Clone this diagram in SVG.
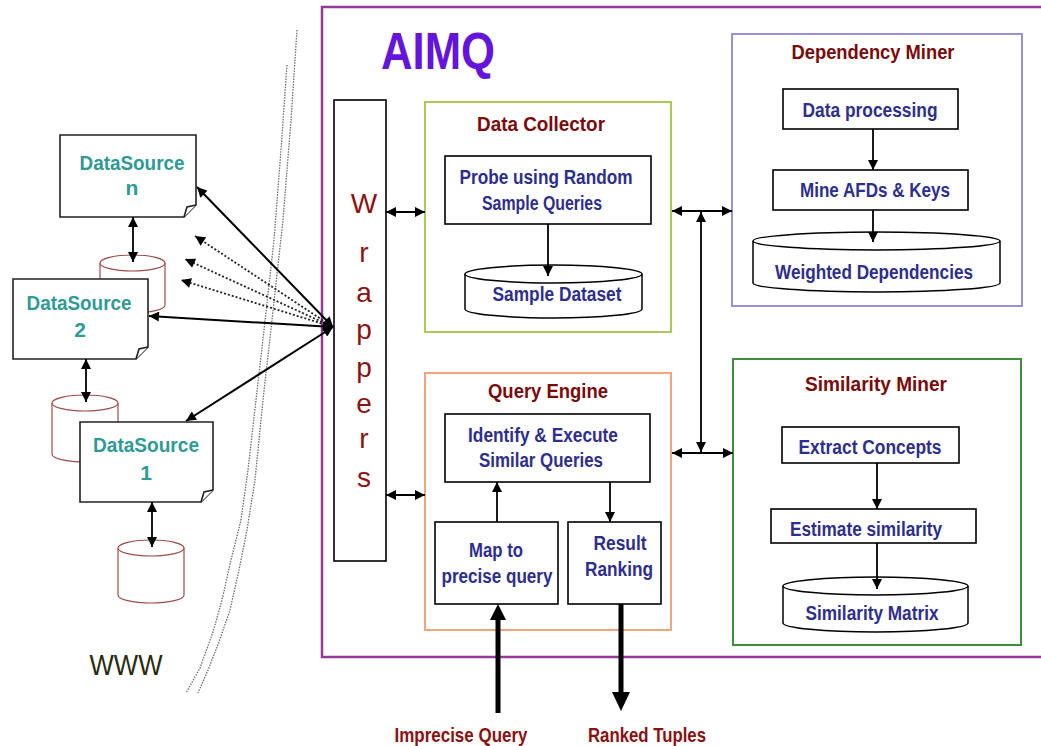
<svg xmlns="http://www.w3.org/2000/svg" width="1041" height="746" viewBox="0 0 1041 746">
  <style>
    text { font-family: "Liberation Sans", Arial, sans-serif; }
    .title { font-weight: bold; font-size: 21px; fill: #7a0a0a; text-anchor: middle; }
    .inner { font-weight: bold; font-size: 20px; fill: #2e2e8e; text-anchor: middle; }
    .ds { font-weight: bold; font-size: 21px; fill: #2f9a96; text-anchor: middle; }
    .wrap { font-size: 28px; fill: #8b1414; text-anchor: middle; }
    .io { font-weight: bold; font-size: 21px; fill: #8b1010; text-anchor: middle; }
    .box { fill: #ffffff; stroke: #000000; stroke-width: 1.6; }
    .cyl { fill: #ffffff; stroke: #000000; stroke-width: 1.5; }
    .dbcyl { fill: #ffffff; stroke: #a04a4a; stroke-width: 1.2; }
    .note { fill: #ffffff; stroke: #222222; stroke-width: 1.6; }
    .link { fill: none; stroke: #000000; stroke-width: 1.8; }
    .web { fill: none; stroke: #000000; stroke-width: 2; }
    .dots { fill: none; stroke: #222222; stroke-width: 1.8; stroke-dasharray: 2 2; }
    .edge { fill: none; stroke: #6e6e6e; stroke-width: 1.3; stroke-dasharray: 1.5 1.2; }
    .thick { fill: none; stroke: #000000; stroke-width: 5; }
  </style>
  <defs>
    <marker id="ah" viewBox="0 0 10 10" refX="10" refY="5" markerWidth="11" markerHeight="10" markerUnits="userSpaceOnUse" orient="auto-start-reverse">
      <path d="M0,0 L10,5 L0,10 z" fill="#000000"/>
    </marker>
  </defs>

  <rect width="1041" height="746" fill="#ffffff"/>

  <!-- network boundary drawn as two dotted strands -->
  <g id="www-edge">
    <path class="edge" d="M287,65 L281,150 L274,240 L264,330 L256,400 L248,470 L241,520 L231,560 L222,600 L213,632 L200,668 L186,693"/>
    <path class="edge" d="M297,30 L291,120 L283,220 L272,320 L263,400 L255,480 L247,530 L239,570 L230,610 L219,642 L208,670 L198,693"/>
  </g>

  <!-- AIMQ system frame -->
  <g id="aimq">
    <rect x="322" y="7" width="730" height="650" fill="none" stroke="#973a97" stroke-width="2.5"/>
    <text x="438" y="69" font-size="52" font-weight="bold" fill="#6414dc" text-anchor="middle" textLength="114" lengthAdjust="spacingAndGlyphs">AIMQ</text>
  </g>

  <!-- data sources on the web -->
  <g id="db-n">
    <path class="dbcyl" d="M100,263 V305 A32.5,8 0 0 0 165,305 V263"/>
    <ellipse class="dbcyl" cx="132.5" cy="263" rx="32.5" ry="8"/>
  </g>
  <g id="datasource-n">
    <path class="note" d="M60,135 H196 V205 L184,217 H60 Z"/>
    <path class="note" d="M196,205 L187,207 L184,217" stroke-width="1.2"/>
    <text class="ds" x="132" y="170" textLength="105" lengthAdjust="spacingAndGlyphs">DataSource</text>
    <text class="ds" x="132" y="195">n</text>
  </g>
  <g id="db-2">
    <path class="dbcyl" d="M52,403 V454 A33,8 0 0 0 118,454 V403"/>
    <ellipse class="dbcyl" cx="85" cy="403" rx="33" ry="8"/>
  </g>
  <g id="datasource-2">
    <path class="note" d="M13,279 H148 V347 L136,359 H13 Z"/>
    <path class="note" d="M148,347 L139,349 L136,359" stroke-width="1.2"/>
    <text class="ds" x="79" y="310" textLength="105" lengthAdjust="spacingAndGlyphs">DataSource</text>
    <text class="ds" x="80" y="337">2</text>
  </g>
  <g id="db-1">
    <path class="dbcyl" d="M118,548 V595 A33,8 0 0 0 184,595 V548"/>
    <ellipse class="dbcyl" cx="151" cy="548" rx="33" ry="8"/>
  </g>
  <g id="datasource-1">
    <path class="note" d="M80,422 H213 V490 L201,502 H80 Z"/>
    <path class="note" d="M213,490 L204,492 L201,502" stroke-width="1.2"/>
    <text class="ds" x="146" y="452" textLength="106" lengthAdjust="spacingAndGlyphs">DataSource</text>
    <text class="ds" x="146" y="480">1</text>
  </g>
  <g id="www-label">
    <text x="126" y="675" font-size="29" fill="#2a2a12" text-anchor="middle" textLength="73" lengthAdjust="spacingAndGlyphs">WWW</text>
  </g>

  <!-- wrappers column -->
  <g id="wrappers">
    <rect class="box" x="334" y="100" width="52" height="461"/>
    <text class="wrap" x="364" y="213">W</text>
    <text class="wrap" x="364" y="262">r</text>
    <text class="wrap" x="364" y="302">a</text>
    <text class="wrap" x="364" y="339">p</text>
    <text class="wrap" x="364" y="377">p</text>
    <text class="wrap" x="364" y="413">e</text>
    <text class="wrap" x="364" y="448">r</text>
    <text class="wrap" x="364" y="487">s</text>
  </g>

  <!-- Data Collector -->
  <g id="data-collector">
    <rect x="425" y="102" width="246" height="230" fill="none" stroke="#aacb55" stroke-width="2"/>
    <text class="title" x="541" y="131" textLength="128" lengthAdjust="spacingAndGlyphs">Data Collector</text>
    <rect class="box" x="445" y="156" width="206" height="68"/>
    <text class="inner" x="546" y="184" textLength="173" lengthAdjust="spacingAndGlyphs">Probe using Random</text>
    <text class="inner" x="542" y="210" textLength="120" lengthAdjust="spacingAndGlyphs">Sample Queries</text>
    <path class="cyl" d="M465,274 V309 A88.5,9 0 0 0 642,309 V274"/>
    <ellipse class="cyl" cx="553.5" cy="274" rx="88.5" ry="9"/>
    <text class="inner" x="557" y="301" textLength="129" lengthAdjust="spacingAndGlyphs">Sample Dataset</text>
  </g>

  <!-- Dependency Miner -->
  <g id="dependency-miner">
    <rect x="732" y="34" width="290" height="272" fill="none" stroke="#9a8fdc" stroke-width="2"/>
    <text class="title" x="873" y="59" textLength="163" lengthAdjust="spacingAndGlyphs">Dependency Miner</text>
    <rect class="box" x="783" y="89" width="175" height="40"/>
    <text class="inner" x="870" y="117" textLength="135" lengthAdjust="spacingAndGlyphs">Data processing</text>
    <rect class="box" x="773" y="170" width="195" height="40"/>
    <text class="inner" x="875" y="197" textLength="150" lengthAdjust="spacingAndGlyphs">Mine AFDs &amp; Keys</text>
    <path class="cyl" d="M753,241 V283 A123.5,9 0 0 0 1000,283 V241"/>
    <ellipse class="cyl" cx="876.5" cy="241" rx="123.5" ry="9"/>
    <text class="inner" x="874" y="279" textLength="198" lengthAdjust="spacingAndGlyphs">Weighted Dependencies</text>
  </g>

  <!-- Query Engine -->
  <g id="query-engine">
    <rect x="425" y="373" width="246" height="257" fill="none" stroke="#f2a57a" stroke-width="2"/>
    <text class="title" x="548" y="398" textLength="120" lengthAdjust="spacingAndGlyphs">Query Engine</text>
    <rect class="box" x="445" y="414" width="205" height="68"/>
    <text class="inner" x="543" y="442" textLength="150" lengthAdjust="spacingAndGlyphs">Identify &amp; Execute</text>
    <text class="inner" x="541" y="467" textLength="124" lengthAdjust="spacingAndGlyphs">Similar Queries</text>
    <rect class="box" x="435" y="522" width="123" height="82"/>
    <text class="inner" x="496" y="557" textLength="54" lengthAdjust="spacingAndGlyphs">Map to</text>
    <text class="inner" x="497" y="583" textLength="111" lengthAdjust="spacingAndGlyphs">precise query</text>
    <rect class="box" x="568" y="522" width="93" height="82"/>
    <text class="inner" x="620" y="550" textLength="53" lengthAdjust="spacingAndGlyphs">Result</text>
    <text class="inner" x="619" y="576" textLength="68" lengthAdjust="spacingAndGlyphs">Ranking</text>
  </g>

  <!-- Similarity Miner -->
  <g id="similarity-miner">
    <rect x="733" y="359" width="288" height="286" fill="none" stroke="#3a913a" stroke-width="2"/>
    <text class="title" x="876" y="391" textLength="142" lengthAdjust="spacingAndGlyphs">Similarity Miner</text>
    <rect class="box" x="782" y="427" width="177" height="36"/>
    <text class="inner" x="870" y="454" textLength="143" lengthAdjust="spacingAndGlyphs">Extract Concepts</text>
    <rect class="box" x="771" y="509" width="205" height="34"/>
    <text class="inner" x="866" y="536" textLength="152" lengthAdjust="spacingAndGlyphs">Estimate similarity</text>
    <path class="cyl" d="M783,586 V623 A92.5,9 0 0 0 968,623 V586"/>
    <ellipse class="cyl" cx="875.5" cy="586" rx="92.5" ry="9"/>
    <text class="inner" x="872" y="620" textLength="133" lengthAdjust="spacingAndGlyphs">Similarity Matrix</text>
  </g>

  <!-- external inputs and outputs -->
  <g id="io-labels">
    <text class="io" x="461" y="742" textLength="133" lengthAdjust="spacingAndGlyphs">Imprecise Query</text>
    <text class="io" x="647" y="742" textLength="118" lengthAdjust="spacingAndGlyphs">Ranked Tuples</text>
  </g>

  <g id="connectors">
    <!-- data sources to their stores -->
    <line class="link" x1="133" y1="217" x2="133" y2="262" marker-start="url(#ah)" marker-end="url(#ah)"/>
    <line class="link" x1="86" y1="359" x2="86" y2="402" marker-start="url(#ah)" marker-end="url(#ah)"/>
    <line class="link" x1="152" y1="502" x2="152" y2="547" marker-start="url(#ah)" marker-end="url(#ah)"/>
    <!-- wrappers to the web sources -->
    <line class="web" x1="333" y1="327" x2="197" y2="187" marker-start="url(#ah)" marker-end="url(#ah)"/>
    <line class="dots" x1="333" y1="327" x2="195" y2="236" marker-end="url(#ah)"/>
    <line class="dots" x1="333" y1="327" x2="185" y2="259" marker-end="url(#ah)"/>
    <line class="dots" x1="333" y1="327" x2="181" y2="280" marker-end="url(#ah)"/>
    <line class="web" x1="333" y1="327" x2="149" y2="316" marker-start="url(#ah)" marker-end="url(#ah)"/>
    <line class="web" x1="333" y1="327" x2="186" y2="421" marker-start="url(#ah)" marker-end="url(#ah)"/>
    <!-- wrappers to components -->
    <line class="link" x1="386" y1="212" x2="425" y2="212" marker-start="url(#ah)" marker-end="url(#ah)"/>
    <line class="link" x1="386" y1="495" x2="425" y2="495" marker-start="url(#ah)" marker-end="url(#ah)"/>
    <!-- component bus -->
    <line class="link" x1="672" y1="211" x2="732" y2="211" marker-start="url(#ah)" marker-end="url(#ah)"/>
    <line class="link" x1="672" y1="453" x2="733" y2="453" marker-start="url(#ah)" marker-end="url(#ah)"/>
    <line class="link" x1="701" y1="212" x2="701" y2="452" marker-start="url(#ah)" marker-end="url(#ah)"/>
    <!-- internal flows -->
    <line class="link" x1="548" y1="224" x2="548" y2="276" marker-end="url(#ah)"/>
    <line class="link" x1="873" y1="129" x2="873" y2="170" marker-end="url(#ah)"/>
    <line class="link" x1="873" y1="210" x2="873" y2="242" marker-end="url(#ah)"/>
    <line class="link" x1="877" y1="463" x2="877" y2="509" marker-end="url(#ah)"/>
    <line class="link" x1="877" y1="543" x2="877" y2="589" marker-end="url(#ah)"/>
    <line class="link" x1="497" y1="522" x2="497" y2="482" marker-end="url(#ah)"/>
    <line class="link" x1="610" y1="482" x2="610" y2="522" marker-end="url(#ah)"/>
    <!-- query in, tuples out -->
    <line class="thick" x1="498" y1="713" x2="498" y2="618"/>
    <polygon points="498,604 490,620 506,620" fill="#000000"/>
    <line class="thick" x1="621" y1="604" x2="621" y2="694"/>
    <polygon points="621,711 612,692 630,692" fill="#000000"/>
  </g>
</svg>
